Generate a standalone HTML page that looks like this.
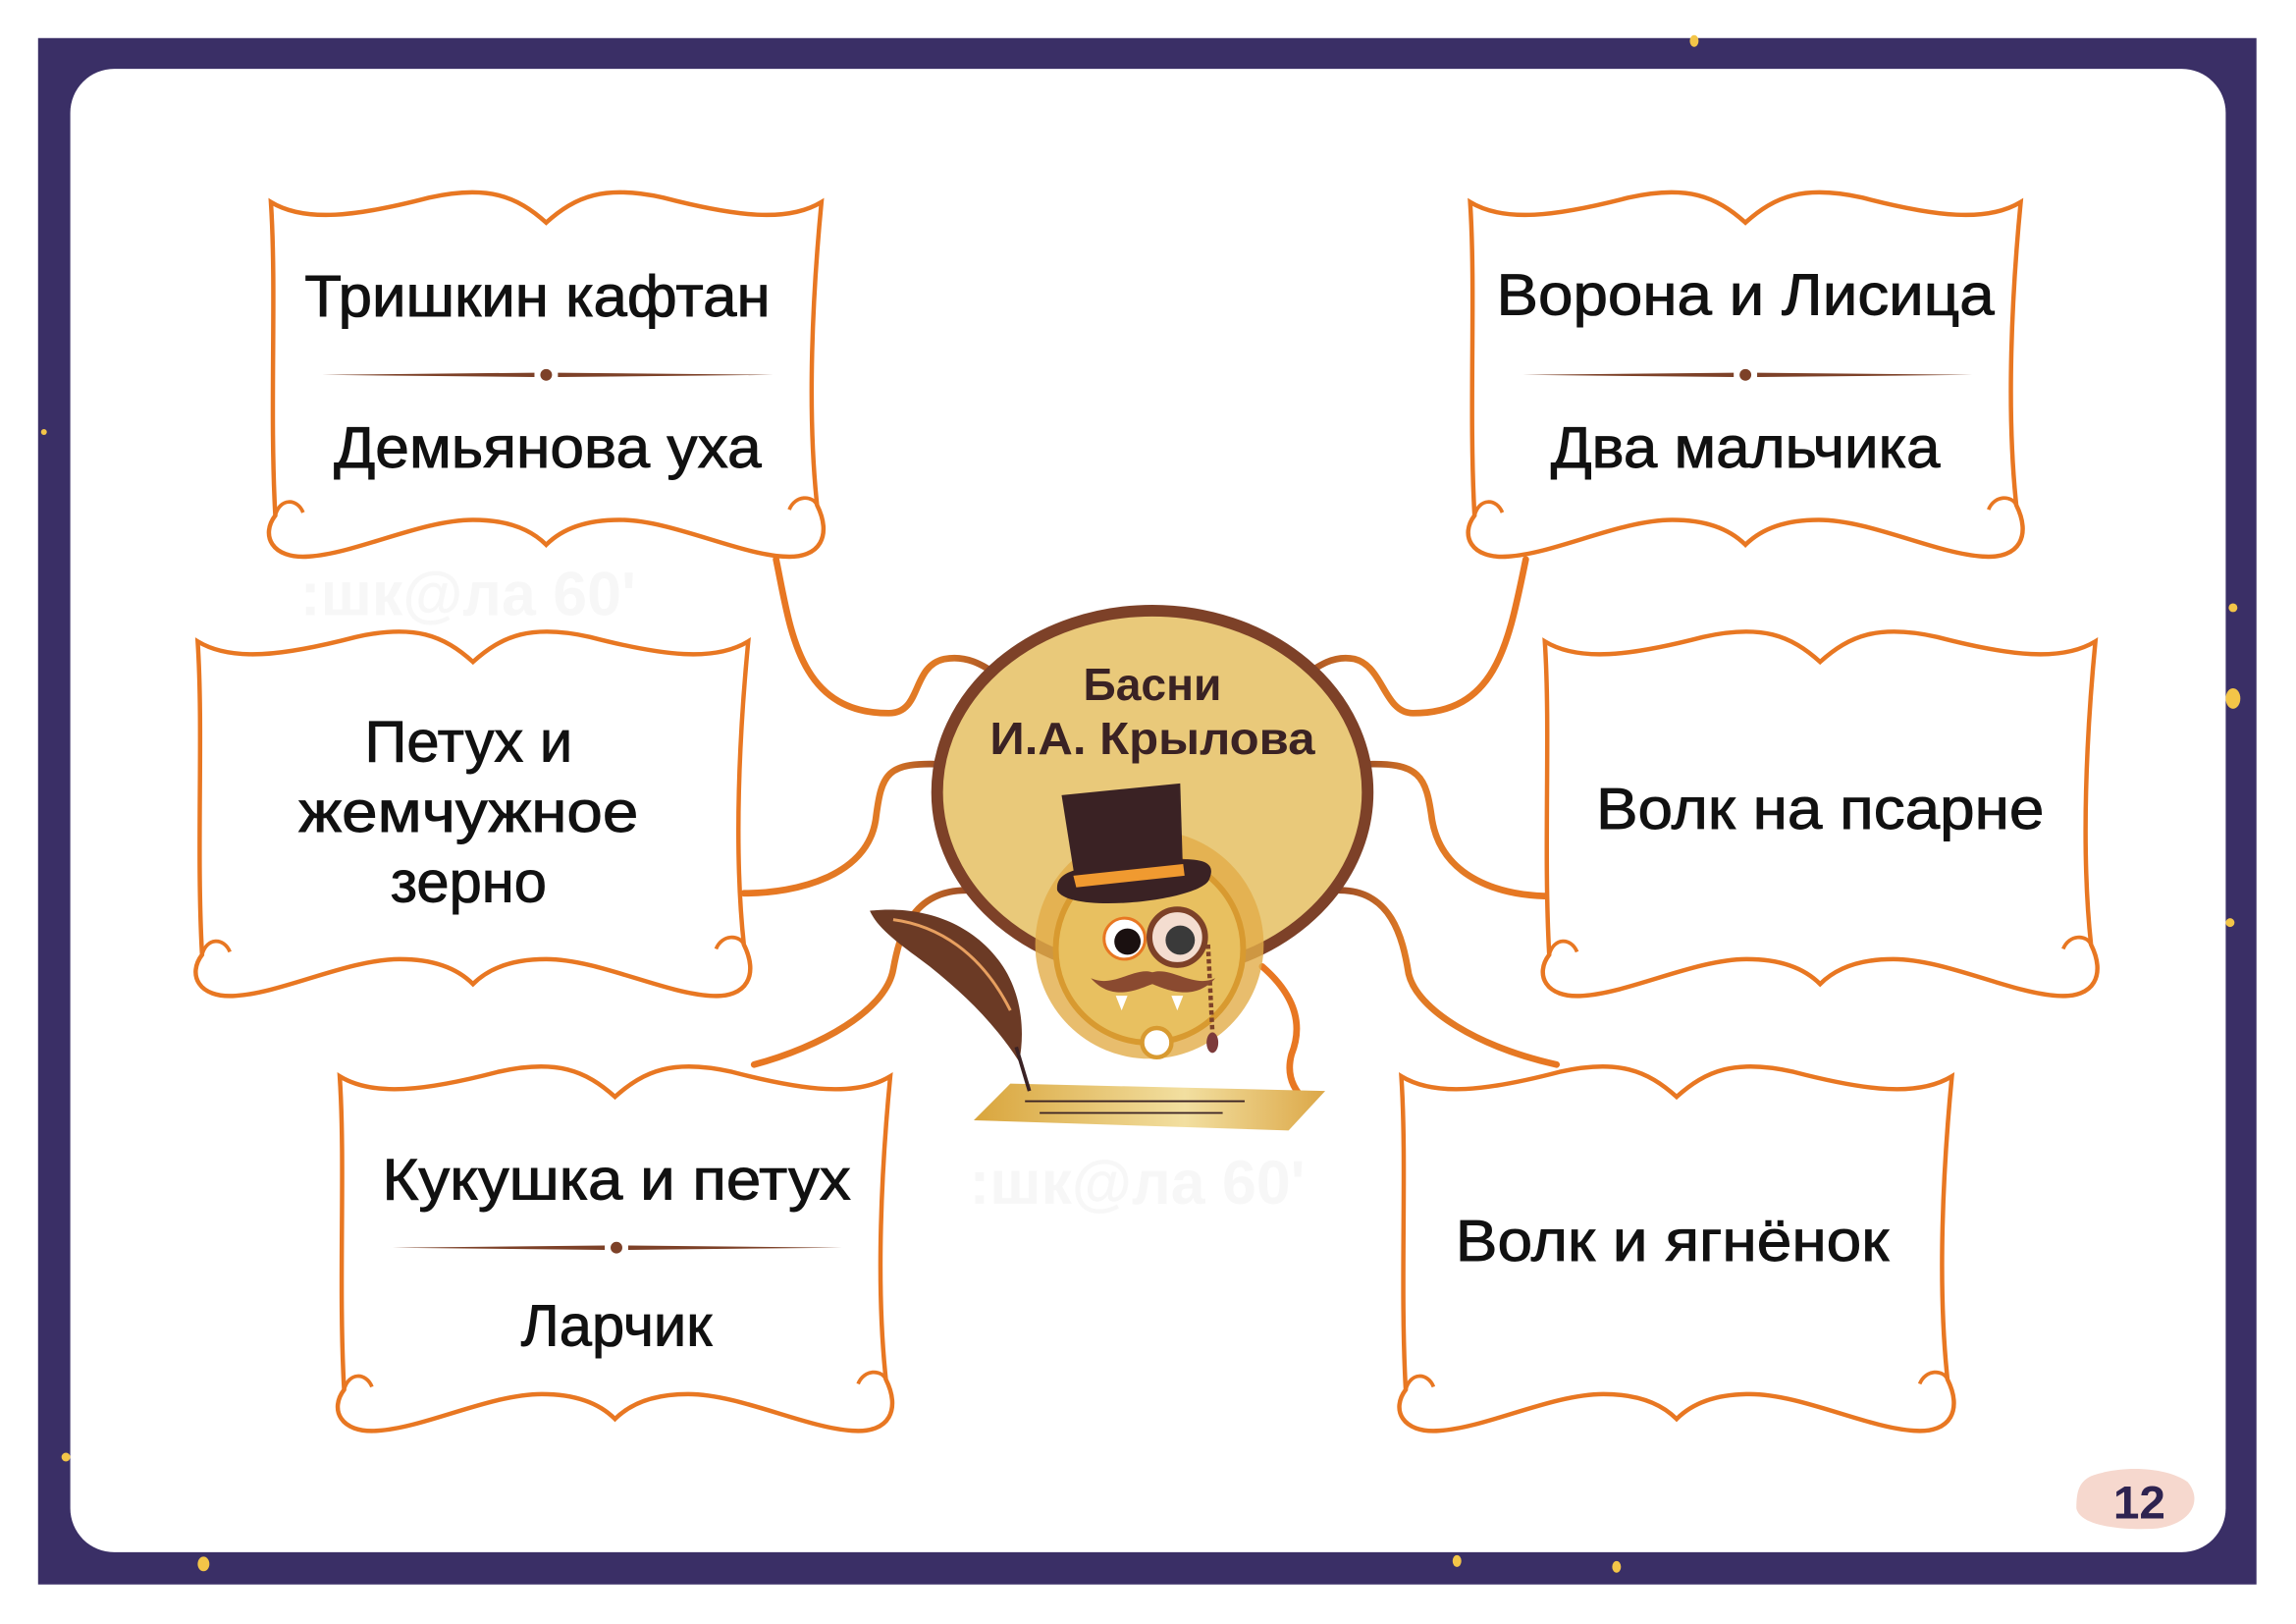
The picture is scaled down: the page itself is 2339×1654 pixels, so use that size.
<!DOCTYPE html>
<html><head><meta charset="utf-8"><style>
html,body{margin:0;padding:0;background:#fff;}
svg{display:block}
text{font-family:"Liberation Sans",sans-serif;}
</style></head><body>
<svg width="2339" height="1654" viewBox="0 0 1568 1109" preserveAspectRatio="none" xmlns="http://www.w3.org/2000/svg">
<defs>
<path id="scroll" d="M2,8 C25,22 60,18 110,5 C150,-4 170,4 190,22 C210,4 230,-4 270,5 C320,18 355,22 378,8 C372,70 368,150 375,215 C385,235 378,252 352,250 C320,248 275,225 240,225 C215,225 200,232 190,242 C180,232 165,225 140,225 C105,225 60,248 28,250 C2,252 -5,235 5,222 C1,150 6,70 2,8 Z"/>
<g id="sc">
<use href="#scroll" fill="#fff" stroke="#e87722" stroke-width="3"/>
<path d="M5,222 C8,210 20,210 24,220 M375,215 C372,208 360,208 356,218" fill="none" stroke="#e87722" stroke-width="2.5"/>
</g>
<linearGradient id="lg" x1="0" x2="1"><stop offset="0" stop-color="#e87722"/><stop offset="0.7" stop-color="#e07a25"/><stop offset="1" stop-color="#9a4c25"/></linearGradient>
<linearGradient id="rg" x1="1" x2="0"><stop offset="0" stop-color="#e87722"/><stop offset="0.7" stop-color="#e07a25"/><stop offset="1" stop-color="#9a4c25"/></linearGradient>
<linearGradient id="pg" x1="0" x2="1"><stop offset="0" stop-color="#d9a53c"/><stop offset="0.6" stop-color="#f2dfa0"/><stop offset="1" stop-color="#dca848"/></linearGradient>
</defs>
<rect x="0" y="0" width="1568" height="1109" fill="#fff"/>
<rect x="26" y="26" width="1515" height="1056" fill="#3a2f66"/>
<rect x="48" y="47" width="1472" height="1013" rx="30" fill="#fff"/>
<g fill="#f3c548"><ellipse cx="1157" cy="28" rx="3" ry="4"/><ellipse cx="1525" cy="477" rx="5" ry="7"/><ellipse cx="1525" cy="415" rx="3" ry="3"/><ellipse cx="1523" cy="630" rx="3" ry="3"/><ellipse cx="139" cy="1068" rx="4" ry="5"/><ellipse cx="995" cy="1066" rx="3" ry="4"/><ellipse cx="1104" cy="1070" rx="3" ry="4"/><ellipse cx="30" cy="295" rx="2" ry="2"/><ellipse cx="45" cy="995" rx="3" ry="3"/></g>

<g fill="#f7f7f7" font-weight="bold" font-size="42"><text x="205" y="420">:шк@ла 60'</text><text x="1128" y="620">:шк@ла 60'</text><text x="662" y="822">:шк@ла 60'</text></g>

<g fill="none" stroke-width="4.5" stroke-linecap="round">
<path d="M530,382 C540,430 545,487 607,487 C630,487 622,455 645,450 C662,447 672,455 688,465" stroke="url(#lg)"/>
<path d="M508,610 C545,610 592,598 598,560 C602,528 605,520 645,522" stroke="url(#lg)"/>
<path d="M515,727 C560,715 605,690 610,662 C614,640 622,608 660,608" stroke="url(#lg)"/>
<path d="M1042,382 C1030,440 1022,487 965,487 C945,487 945,455 925,450 C910,447 900,455 886,465" stroke="url(#rg)"/>
<path d="M1060,612 C1025,612 985,600 978,560 C974,530 970,520 930,522" stroke="url(#rg)"/>
<path d="M1063,727 C1010,715 968,690 962,665 C958,640 950,608 915,608" stroke="url(#rg)"/>
<path d="M862,660 C885,680 890,700 882,720 C878,735 884,745 892,752" stroke="#e87722"/>
</g>

<use href="#sc" x="183" y="130"/>
<use href="#sc" x="1002" y="130"/>
<use href="#sc" x="133" y="430"/>
<use href="#sc" x="1053" y="430"/>
<use href="#sc" x="230" y="727"/>
<use href="#sc" x="955" y="727"/>

<g fill="#7d4128">
<path d="M220,256 L365,254.5 L365,257.5 Z M528,256 L381,254.5 L381,257.5 Z"/><circle cx="373" cy="256" r="4"/>
<path d="M1040,256 L1184,254.5 L1184,257.5 Z M1347,256 L1200,254.5 L1200,257.5 Z"/><circle cx="1192" cy="256" r="4"/>
<path d="M268,852 L413,850.5 L413,853.5 Z M575,852 L429,850.5 L429,853.5 Z"/><circle cx="421" cy="852" r="4"/>
</g>

<g fill="#111" font-size="40" text-anchor="middle" stroke="#111" stroke-width="0.6">
<text x="367" y="216" textLength="318" lengthAdjust="spacingAndGlyphs">Тришкин кафтан</text>
<text x="374" y="319" textLength="292" lengthAdjust="spacingAndGlyphs">Демьянова уха</text>
<text x="1192" y="215" textLength="340" lengthAdjust="spacingAndGlyphs">Ворона и Лисица</text>
<text x="1192" y="319" textLength="266" lengthAdjust="spacingAndGlyphs">Два мальчика</text>
<text x="320" y="520">Петух и</text>
<text x="320" y="568" textLength="232" lengthAdjust="spacingAndGlyphs">жемчужное</text>
<text x="320" y="616">зерно</text>
<text x="1243" y="566" textLength="306" lengthAdjust="spacingAndGlyphs">Волк на псарне</text>
<text x="421" y="819" textLength="320" lengthAdjust="spacingAndGlyphs">Кукушка и петух</text>
<text x="421" y="919">Ларчик</text>
<text x="1142" y="861" textLength="296" lengthAdjust="spacingAndGlyphs">Волк и ягнёнок</text>
</g>

<ellipse cx="787" cy="541" rx="147" ry="124" fill="#e9c97a" stroke="#7d4128" stroke-width="8"/>
<g fill="#3a2224" font-weight="bold" text-anchor="middle">
<text x="787" y="478" font-size="31">Басни</text>
<text x="787" y="515" font-size="31" textLength="222" lengthAdjust="spacingAndGlyphs">И.А. Крылова</text>
</g>
<path d="M690,740 L905,745 L880,772 L665,765 Z" fill="url(#pg)"/>
<g stroke="#3a2224" stroke-width="1.2" fill="none"><path d="M700,752 L850,752 M710,760 L835,760"/></g>
<circle cx="785" cy="645" r="78" fill="#e2ac48" opacity="0.8"/>
<circle cx="785" cy="648" r="64" fill="#e8c060" stroke="#d89a30" stroke-width="4"/>
<circle cx="790" cy="712" r="10" fill="#fff" stroke="#d89a30" stroke-width="3"/>
<circle cx="768" cy="641" r="14" fill="#fff" stroke="#e87722" stroke-width="2"/><circle cx="770" cy="643" r="9" fill="#1a1010"/>
<circle cx="804" cy="640" r="19" fill="#f4ddd0" stroke="#7d4128" stroke-width="4"/><circle cx="806" cy="642" r="10" fill="#3a3a3a"/>
<path d="M825,645 L828,705" stroke="#7d4128" stroke-width="3" stroke-dasharray="3 2"/><ellipse cx="828" cy="712" rx="4" ry="7" fill="#7d3b3b"/>
<path d="M745,668 C760,675 775,660 787,664 C800,660 815,675 830,668 C815,685 795,675 787,672 C778,675 760,685 745,668 Z" fill="#8a4a30"/>
<path d="M762,680 L766,690 L770,680 Z M800,680 L804,690 L808,680 Z" fill="#fff"/>
<path d="M725,543 L806,535 L808,600 L735,606 Z" fill="#3a2224"/>
<path d="M722,608 C720,590 750,592 790,588 C825,584 830,590 826,600 C822,615 730,625 722,608 Z" fill="#3a2224"/>
<path d="M733,598 L808,590 L809,598 L735,606 Z" fill="#f09a30"/>
<path d="M594,622 C630,618 665,630 685,660 C698,680 700,705 696,725 C680,700 660,680 635,660 C615,645 600,635 594,622 Z" fill="#6b3a25"/>
<path d="M610,628 C640,632 670,650 690,690" stroke="#e8a060" stroke-width="2" fill="none"/>
<path d="M694,715 L703,745" stroke="#3a2224" stroke-width="2.5"/>

<path d="M1428,1008 C1450,1000 1480,1002 1494,1012 C1505,1025 1496,1042 1470,1044 C1440,1045 1420,1040 1418,1030 C1418,1018 1420,1012 1428,1008 Z" fill="#f6d8ce"/>
<text x="1461" y="1037" font-size="32" font-weight="bold" fill="#2e2350" text-anchor="middle">12</text>
</svg>
</body></html>
